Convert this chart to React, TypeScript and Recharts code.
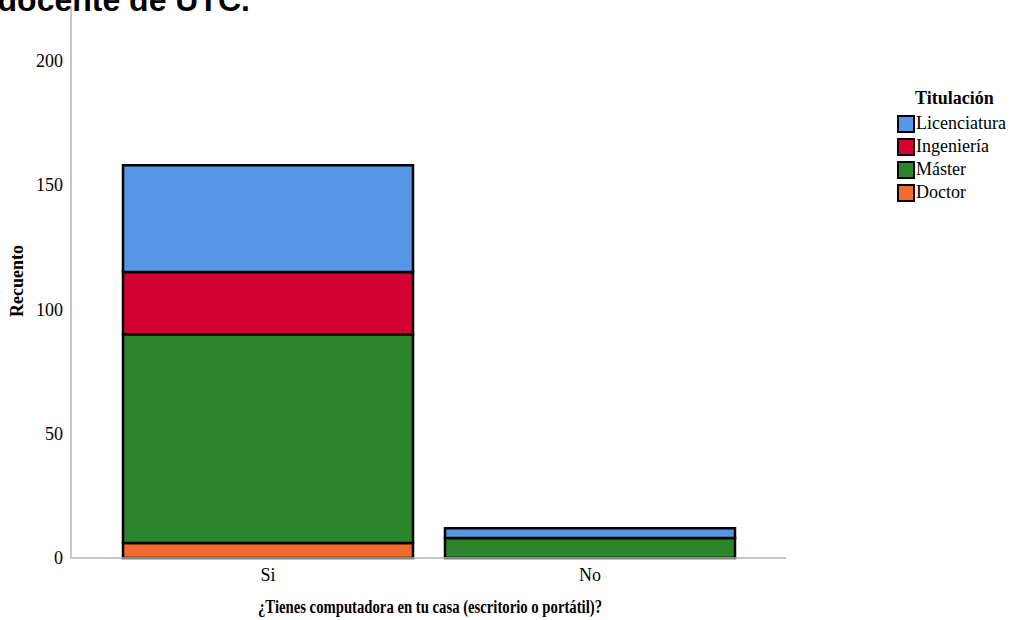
import { BarChart, Bar, XAxis, YAxis, Label } from "recharts";

const categories = ["Si", "No"];
const licenciatura = [43, 4];
const ingenieria = [25, 0];
const master = [84, 8];
const doctor = [6, 0];
const yTicks = [0, 50, 100, 150, 200];

const series = [
  { key: "Licenciatura", color: "#5596e6" },
  { key: "Ingeniería", color: "#d50032" },
  { key: "Máster", color: "#2a852b" },
  { key: "Doctor", color: "#f26a2e" },
];

const data = categories.map((c, i) => ({
  name: c,
  Licenciatura: licenciatura[i],
  "Ingeniería": ingenieria[i],
  "Máster": master[i],
  Doctor: doctor[i],
}));

const serif = "'Liberation Serif', 'Times New Roman', serif";

function LegendBox() {
  return (
    <div
      style={{
        position: "absolute",
        left: 897,
        top: 86,
        fontFamily: serif,
        fontSize: 18,
        color: "#000",
        whiteSpace: "nowrap",
      }}
    >
      <div style={{ fontWeight: "bold", marginLeft: 18, height: 26, lineHeight: "24px" }}>Titulación</div>
      {series.map((s) => (
        <div key={s.key} style={{ display: "flex", alignItems: "center", height: 23 }}>
          <span
            style={{
              width: 14,
              height: 14,
              background: s.color,
              border: "2px solid #000",
              marginRight: 1,
            }}
          />
          <span>{s.key}</span>
        </div>
      ))}
    </div>
  );
}

export default function App() {
  return (
    <div
      style={{
        position: "fixed",
        left: 0,
        top: 0,
        width: 1016,
        height: 620,
        overflow: "hidden",
        background: "#fff",
      }}
    >
      <div
        style={{
          position: "absolute",
          right: 1016 - 250,
          top: -16,
          fontFamily: "'Liberation Sans', Arial, sans-serif",
          fontWeight: "bold",
          fontSize: 32,
          lineHeight: "32px",
          whiteSpace: "nowrap",
          color: "#000",
        }}
      >
        personal docente de UTC.
      </div>
      <BarChart
        width={1016}
        height={620}
        data={data}
        margin={{ top: 6, right: 230, bottom: 32, left: 0 }}
        barSize={290}
      >
        <XAxis
          dataKey="name"
          height={30}
          padding={{ left: 36, right: 35 }}
          tickLine={false}
          axisLine={{ stroke: "#b4b4b4", strokeWidth: 1.5 }}
          tick={{ fill: "#000", fontSize: 18, fontFamily: serif, dy: 2 }}
        >
          <Label
            content={() => (
              <text
                x={430}
                y={613}
                textAnchor="middle"
                fontFamily={serif}
                fontWeight="bold"
                fontSize={18}
                textLength={344}
                lengthAdjust="spacingAndGlyphs"
                fill="#000"
              >
                ¿Tienes computadora en tu casa (escritorio o portátil)?
              </text>
            )}
          />
        </XAxis>
        <YAxis
          width={71}
          domain={[0, 222]}
          ticks={yTicks}
          tickLine={false}
          axisLine={{ stroke: "#b4b4b4", strokeWidth: 1.5 }}
          tick={{ fill: "#000", fontSize: 18, fontFamily: serif }}
        >
          <Label
            content={() => (
              <text
                x={23}
                y={281}
                transform="rotate(-90 23 281)"
                textAnchor="middle"
                fontFamily={serif}
                fontWeight="bold"
                fontSize={18}
                fill="#000"
              >
                Recuento
              </text>
            )}
          />
        </YAxis>
        {[...series].reverse().map((s) => (
          <Bar
            key={s.key}
            dataKey={s.key}
            stackId="a"
            fill={s.color}
            stroke="#000"
            strokeWidth={2.5}
            isAnimationActive={false}
          />
        ))}
      </BarChart>
      <LegendBox />
    </div>
  );
}
